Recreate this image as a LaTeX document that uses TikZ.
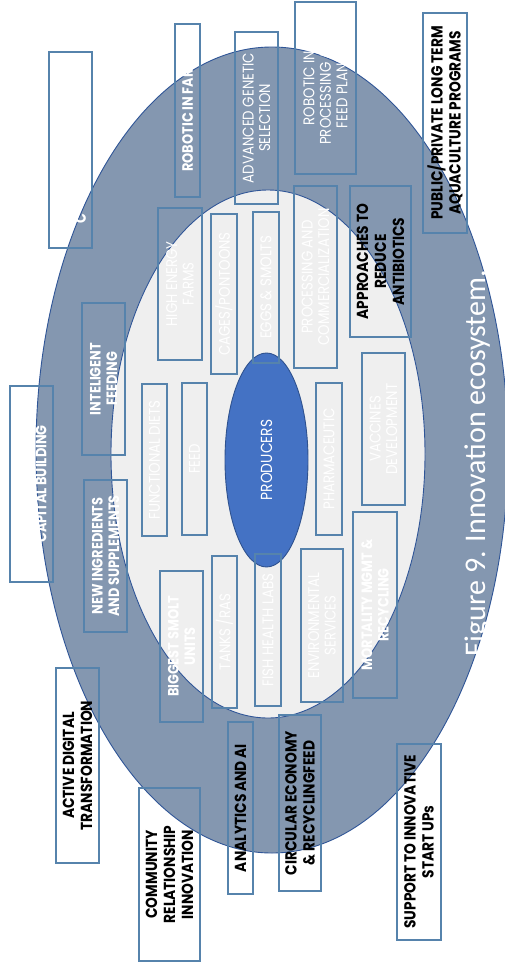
\documentclass[tikz,border=0pt]{standalone}
\usepackage{fontspec}
\setmainfont{Poppins}[FakeStretch=0.86]
\newfontfamily\capfont{Carlito}
\usetikzlibrary{shapes.geometric}
\definecolor{ring}{HTML}{8497B0}
\definecolor{ringedge}{HTML}{2F5597}
\definecolor{core}{HTML}{EFEFEF}
\definecolor{prod}{HTML}{4472C4}
\definecolor{prodedge}{HTML}{2F528F}
\definecolor{boxedge}{HTML}{5683AC}
\begin{document}
\begin{tikzpicture}[x=1pt,y=-1pt,
  oval/.style={ellipse, inner sep=0pt, line width=0.9pt},
  box/.style={draw=boxedge, line width=1.1pt, inner sep=0pt, rectangle},
  wt/.style={rotate=90, text=white, align=center, inner sep=0pt, font=\fontsize{15.5}{16.5}\selectfont},
  wb/.style={wt, font=\fontsize{15}{16.5}\selectfont\bfseries},
  bt/.style={rotate=90, text=black, align=center, inner sep=0pt, font=\fontsize{16}{18}\selectfont\bfseries}]
\useasboundingbox (0,0) rectangle (505,970);
\fill[white] (0,0) rectangle (505,970);
% ellipses
\node[oval, draw=ringedge, fill=ring, minimum width=472pt, minimum height=806pt] (outer) at (272,450) {};
\node[oval, draw=ringedge, fill=core, minimum width=314pt, minimum height=528pt] (inner) at (268,454) {};
\node[oval, draw=prodedge, fill=prod, minimum width=83pt, minimum height=214pt] (prodc) at (266.5,460) {};
\node[wt, font=\fontsize{16}{17}\selectfont] (prodt) at (prodc) {PRODUCERS};
% top boxes
\node[box, minimum width=43pt, minimum height=196pt] (bC) at (70.5,150) {};
\node[wb] (tC) at (80.5,219) {C};
\node[box, minimum width=25pt, minimum height=173pt] (bRF) at (187.5,110.5) {};
\node[wb] (tRF) at (bRF) {ROBOTIC IN FARMS};
\node[box, minimum width=43pt, minimum height=172pt] (bAG) at (256.5,118) {};
\node[wt] (tAG) at (bAG) {ADVANCED GENETIC\\SELECTION};
\node[box, minimum width=61pt, minimum height=172pt] (bRP) at (325.5,88) {};
\node[wt] (tRP) at (bRP) {ROBOTIC IN\\PROCESSING AND\\FEED PLANTS};
\node[box, minimum width=44pt, minimum height=220pt] (bPP) at (445,123) {};
\node[bt] (tPP) at (bPP) {PUBLIC/PRIVATE LONG TERM\\AQUACULTURE PROGRAMS};
% upper inner row
\node[box, minimum width=44pt, minimum height=152pt] (bHE) at (180,284) {};
\node[wt] (tHE) at (bHE) {HIGH ENERGY\\FARMS};
\node[box, minimum width=26pt, minimum height=160pt] (bCP) at (224,294) {};
\node[wt] (tCP) at (bCP) {CAGES/PONTOONS};
\node[box, minimum width=26pt, minimum height=151pt] (bES) at (266,287.5) {};
\node[wt] (tES) at (bES) {EGGS \& SMOLTS};
\node[box, minimum width=43pt, minimum height=182pt] (bPC) at (315.5,277) {};
\node[wt] (tPC) at (bPC) {PROCESSING AND\\COMMERCIALIZATION};
\node[box, minimum width=61pt, minimum height=151pt] (bAR) at (380.5,261.5) {};
\node[bt] (tAR) at (bAR) {APPROACHES TO\\REDUCE\\ANTIBIOTICS};
% middle row
\node[box, minimum width=43pt, minimum height=196pt] (bCB) at (31.5,484) {};
\node[wb] (tCB) at (41,484) {CAPITAL BUILDING};
\node[box, minimum width=43pt, minimum height=152pt] (bIF) at (103.5,379) {};
\node[wb] (tIF) at (bIF) {INTELIGENT\\FEEDING};
\node[box, minimum width=43pt, minimum height=152pt] (bNI) at (105.5,556) {};
\node[wb] (tNI) at (bNI) {NEW INGREDIENTS\\AND SUPPLEMENTS};
\node[box, minimum width=25pt, minimum height=152pt] (bFD) at (154.5,460) {};
\node[wt] (tFD) at (bFD) {FUNCTIONAL DIETS};
\node[box, minimum width=25pt, minimum height=152pt] (bFE) at (194.5,459) {};
\node[wt] (tFE) at (bFE) {FEED};
\node[box, minimum width=26pt, minimum height=152pt] (bPH) at (329,459) {};
\node[wt] (tPH) at (bPH) {PHARMACEUTIC};
\node[box, minimum width=43pt, minimum height=152pt] (bVD) at (383.5,429) {};
\node[wt] (tVD) at (bVD) {VACCINES\\DEVELOPMENT};
% lower inner row
\node[box, minimum width=44pt, minimum height=186pt] (bMM) at (375,605) {};
\node[wb] (tMM) at (bMM) {MORTALITY MGMT \&\\RECYCLING};
\node[box, minimum width=43pt, minimum height=151pt] (bBS) at (181.5,646.5) {};
\node[wb] (tBS) at (bBS) {BIGGEST SMOLT\\UNITS};
\node[box, minimum width=25pt, minimum height=152pt] (bTR) at (224.5,632) {};
\node[wt] (tTR) at (bTR) {TANKS /RAS};
\node[box, minimum width=26pt, minimum height=152pt] (bFH) at (268,630) {};
\node[wt] (tFH) at (bFH) {FISH HEALTH LABS};
\node[box, minimum width=42pt, minimum height=153pt] (bEN) at (322,625.5) {};
\node[wt] (tEN) at (bEN) {ENVIRONMENTAL\\SERVICES};
% bottom boxes
\node[box, minimum width=43pt, minimum height=195pt] (bAD) at (77.5,765.5) {};
\node[bt] (tAD) at (bAD) {ACTIVE DIGITAL\\TRANSFORMATION};
\node[box, minimum width=61pt, minimum height=173pt] (bCR) at (169.5,874.5) {};
\node[bt] (tCR) at (bCR) {COMMUNITY\\RELATIONSHIP\\INNOVATION};
\node[box, minimum width=25pt, minimum height=172pt] (bAI) at (240.5,808) {};
\node[bt] (tAI) at (bAI) {ANALYTICS AND AI};
\node[box, minimum width=42pt, minimum height=176pt] (bCE) at (300,803) {};
\node[bt] (tCE) at (bCE) {CIRCULAR ECONOMY\\\& RECYCLINGFEED};
\node[box, minimum width=44pt, minimum height=196pt] (bSU) at (419,842) {};
\node[bt] (tSU) at (bSU) {SUPPORT TO INNOVATIVE\\START UPs};
% caption
\node[rotate=90, text=white, inner sep=0pt, font=\capfont\fontsize{30}{32}\selectfont] (cap) at (477.5,463) {Figure 9. Innovation ecosystem.};
\end{tikzpicture}
\end{document}
